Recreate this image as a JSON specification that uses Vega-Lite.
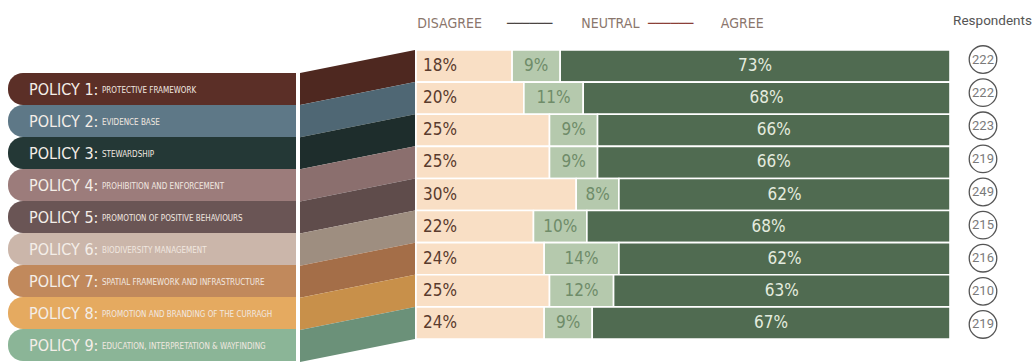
{
  "$schema": "https://vega.github.io/schema/vega-lite/v6.json",
  "padding": 0,
  "autosize": {"type": "pad"},
  "background": "white",
  "spacing": 0,
  "resolve": {"scale": {"color": "independent"}},
  "datasets": {
    "policies": [
      {"n": 1, "policy": "POLICY 1:", "desc": "PROTECTIVE FRAMEWORK", "disagree": 18, "neutral": 9, "agree": 73, "respondents": 222},
      {"n": 2, "policy": "POLICY 2:", "desc": "EVIDENCE BASE", "disagree": 20, "neutral": 11, "agree": 68, "respondents": 222},
      {"n": 3, "policy": "POLICY 3:", "desc": "STEWARDSHIP", "disagree": 25, "neutral": 9, "agree": 66, "respondents": 223},
      {"n": 4, "policy": "POLICY 4:", "desc": "PROHIBITION AND ENFORCEMENT", "disagree": 25, "neutral": 9, "agree": 66, "respondents": 219},
      {"n": 5, "policy": "POLICY 5:", "desc": "PROMOTION OF POSITIVE BEHAVIOURS", "disagree": 30, "neutral": 8, "agree": 62, "respondents": 249},
      {"n": 6, "policy": "POLICY 6:", "desc": "BIODIVERSITY MANAGEMENT", "disagree": 22, "neutral": 10, "agree": 68, "respondents": 215},
      {"n": 7, "policy": "POLICY 7:", "desc": "SPATIAL FRAMEWORK AND INFRASTRUCTURE", "disagree": 24, "neutral": 14, "agree": 62, "respondents": 216},
      {"n": 8, "policy": "POLICY 8:", "desc": "PROMOTION AND BRANDING OF THE CURRAGH", "disagree": 25, "neutral": 12, "agree": 63, "respondents": 210},
      {"n": 9, "policy": "POLICY 9:", "desc": "EDUCATION, INTERPRETATION & WAYFINDING", "disagree": 24, "neutral": 9, "agree": 67, "respondents": 219}
    ]
  },
  "hconcat": [
    {
      "width": 298,
      "height": 363,
      "data": {"name": "policies"},
      "encoding": {
        "y": {"field": "n", "type": "ordinal", "axis": null, "scale": {"range": [73, 361], "paddingInner": 0, "paddingOuter": 0}}
      },
      "layer": [
        {
          "mark": {"type": "bar", "cornerRadiusTopLeft": 15, "cornerRadiusBottomLeft": 15},
          "encoding": {
            "x": {"datum": 0, "type": "quantitative", "scale": {"domain": [0, 1], "range": [8, 296]}, "axis": null},
            "x2": {"datum": 1},
            "color": {"field": "n", "type": "ordinal", "legend": null, "scale": {"range": ["#5b2f27", "#5e7887", "#243836", "#9c7c7b", "#6a5555", "#cbb6aa", "#c1895c", "#e5aa60", "#8bb597"]}}
          }
        },
        {
          "mark": {"type": "text", "align": "left", "baseline": "middle", "dx": 21, "dy": 1, "font": "'Liberation Sans Narrow', 'DejaVu Sans Condensed', 'Roboto Condensed', sans-serif", "fontSize": 16, "color": "#f4eee8"},
          "encoding": {
            "x": {"datum": 0, "type": "quantitative"},
            "text": {"field": "policy"}
          }
        },
        {
          "mark": {"type": "text", "align": "left", "baseline": "middle", "dx": 94, "dy": 2, "font": "'Liberation Sans Narrow', 'DejaVu Sans Condensed', 'Roboto Condensed', sans-serif", "fontSize": 8, "color": "#f1e8e0"},
          "encoding": {
            "x": {"datum": 0, "type": "quantitative"},
            "text": {"field": "desc"}
          }
        }
      ]
    },
    {
      "width": 117,
      "height": 363,
      "data": {"name": "policies"},
      "transform": [
        {"fold": ["disagree", "agree"], "as": ["side", "v"]},
        {"calculate": "datum.side == 'disagree' ? 0 : 1", "as": "xe"},
        {"calculate": "datum.n - 1 + (datum.side == 'disagree' ? 0.7165 : 0)", "as": "top"},
        {"calculate": "datum.top + 1", "as": "bot"}
      ],
      "mark": {"type": "area", "interpolate": "linear"},
      "encoding": {
        "x": {"field": "xe", "type": "quantitative", "scale": {"domain": [0, 1], "range": [2, 117]}, "axis": null},
        "y": {"field": "top", "type": "quantitative", "stack": null, "scale": {"domain": [0, 9], "range": [50, 339]}, "axis": null},
        "y2": {"field": "bot"},
        "color": {"field": "n", "type": "ordinal", "legend": null, "scale": {"range": ["#4e2820", "#4f6774", "#1e2d2c", "#8b6f6e", "#5f4c4b", "#9e8e80", "#a46e48", "#c8904a", "#6b9179"]}}
      }
    },
    {
      "width": 534,
      "height": 363,
      "data": {"name": "policies"},
      "transform": [
        {"fold": ["disagree", "neutral", "agree"], "as": ["response", "pct"]},
        {"calculate": "indexof(['disagree','neutral','agree'], datum.response)", "as": "ord"},
        {"stack": "pct", "groupby": ["n"], "sort": [{"field": "ord", "order": "ascending"}], "offset": "normalize", "as": ["x0", "x1"]},
        {"calculate": "(datum.x0 + datum.x1) / 2", "as": "xm"},
        {"calculate": "datum.pct + '%'", "as": "lbl"}
      ],
      "encoding": {
        "y": {"field": "n", "type": "ordinal", "axis": null, "scale": {"range": [50, 339], "paddingInner": 0, "paddingOuter": 0}}
      },
      "layer": [
        {
          "mark": {"type": "bar", "stroke": "white", "strokeWidth": 1.6},
          "encoding": {
            "x": {
              "field": "x0", "type": "quantitative", "scale": {"domain": [0, 1]},
              "axis": {
                "orient": "top", "offset": -30, "values": [0.062, 0.212, 0.363, 0.476, 0.61],
                "labelExpr": "datum.value < 0.1 ? 'DISAGREE' : datum.value < 0.3 ? '──────' : datum.value < 0.4 ? 'NEUTRAL' : datum.value < 0.5 ? '──────' : 'AGREE'",
                "labelColor": {"condition": [{"test": "datum.value > 0.1 && datum.value < 0.3", "value": "#4b4543"}, {"test": "datum.value > 0.4 && datum.value < 0.5", "value": "#8c3f37"}], "value": "#8a766c"},
                "labelFont": "'Liberation Sans Narrow', 'DejaVu Sans Condensed', 'Roboto Condensed', sans-serif",
                "labelFontSize": 14, "labelPadding": 0, "labelFlush": false, "labelOverlap": false,
                "domain": false, "ticks": false, "grid": false, "title": null
              }
            },
            "x2": {"field": "x1"},
            "color": {"field": "response", "type": "nominal", "legend": null, "scale": {"domain": ["disagree", "neutral", "agree"], "range": ["#f9dfc5", "#b5c9ad", "#506b51"]}}
          }
        },
        {
          "transform": [{"filter": "datum.response == 'disagree'"}],
          "mark": {"type": "text", "align": "left", "baseline": "middle", "dx": 7, "font": "'Liberation Sans Narrow', 'DejaVu Sans Condensed', 'Roboto Condensed', sans-serif", "fontSize": 17, "color": "#5a3b2d"},
          "encoding": {"x": {"field": "x0", "type": "quantitative"}, "text": {"field": "lbl"}}
        },
        {
          "transform": [{"filter": "datum.response == 'neutral'"}],
          "mark": {"type": "text", "align": "center", "baseline": "middle", "font": "'Liberation Sans Narrow', 'DejaVu Sans Condensed', 'Roboto Condensed', sans-serif", "fontSize": 17, "color": "#6f8c69"},
          "encoding": {"x": {"field": "xm", "type": "quantitative"}, "text": {"field": "lbl"}}
        },
        {
          "transform": [{"filter": "datum.response == 'agree'"}],
          "mark": {"type": "text", "align": "center", "baseline": "middle", "font": "'Liberation Sans Narrow', 'DejaVu Sans Condensed', 'Roboto Condensed', sans-serif", "fontSize": 17, "color": "#e4ebdf"},
          "encoding": {"x": {"field": "xm", "type": "quantitative"}, "text": {"field": "lbl"}}
        }
      ]
    },
    {
      "width": 64,
      "height": 363,
      "data": {"name": "policies"},
      "encoding": {
        "y": {"field": "n", "type": "ordinal", "axis": null, "scale": {"range": [43, 341], "paddingInner": 0, "paddingOuter": 0}},
        "x": {
          "datum": "Respondents", "type": "nominal",
          "scale": {"type": "point", "padding": 0.5},
          "axis": {"orient": "top", "offset": -27, "labelOffset": 9, "labelFont": "Roboto", "labelFontSize": 13.5, "labelColor": "#555555", "labelPadding": 0, "labelAngle": 0, "domain": false, "ticks": false, "grid": false, "title": null}
        }
      },
      "layer": [
        {"mark": {"type": "point", "shape": "circle", "size": 760, "filled": false, "stroke": "#555555", "strokeWidth": 1.3, "fill": "white", "opacity": 1}},
        {"mark": {"type": "text", "align": "center", "baseline": "middle", "font": "Roboto", "fontSize": 13, "color": "#7a7a7a"}, "encoding": {"text": {"field": "respondents"}}}
      ]
    }
  ],
  "config": {"view": {"stroke": null}, "concat": {"spacing": 0}}
}
